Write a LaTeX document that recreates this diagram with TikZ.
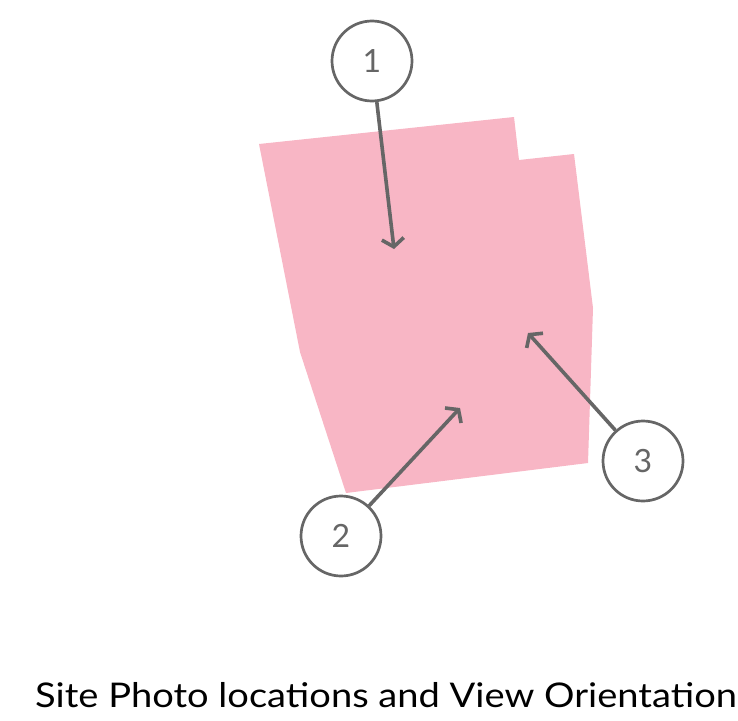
\documentclass[tikz,border=0pt]{standalone}
\usepackage{fontspec}
\setmainfont{Lato}
\newfontfamily\capfont[FakeStretch=1.12]{Lato}
\usetikzlibrary{arrows.meta}
\definecolor{sitepink}{HTML}{F8B6C5}
\definecolor{darkgrey}{HTML}{666666}
\tikzset{
  marker/.style={circle, draw=darkgrey, line width=2.7pt, fill=white, minimum size=80pt, inner sep=0pt, text=darkgrey, font=\fontsize{32}{32}\selectfont},
  viewarrow/.style={draw=darkgrey, line width=3.6pt, -{Straight Barb[length=8pt, width=22pt, line width=3.6pt]}}
}
\begin{document}
\begin{tikzpicture}[x=1pt, y=-1pt]
\useasboundingbox (0,0) rectangle (738,720);
\clip (0,0) rectangle (738,720);
\fill[sitepink] (259,144) -- (514,117) -- (519,160) -- (574,154) -- (593,308) -- (588,463) -- (346,493) -- (300,352) -- cycle;
\node[marker] (c1) at (372,61) {1};
\node[marker] (c2) at (341,536) {2};
\node[marker] (c3) at (643,461) {3};
\coordinate (t1) at (394,249);
\coordinate (t2) at (460,408);
\coordinate (t3) at (528,333);
\draw[viewarrow] (c1) -- (t1);
\draw[viewarrow] (c2) -- (t2);
\draw[viewarrow] (c3) -- (t3);
\node[anchor=base west, inner sep=0pt, font=\capfont\fontsize{34}{34}\selectfont] (cap) at (35,707) {Site Photo locations and View Orientations};
\end{tikzpicture}
\end{document}
